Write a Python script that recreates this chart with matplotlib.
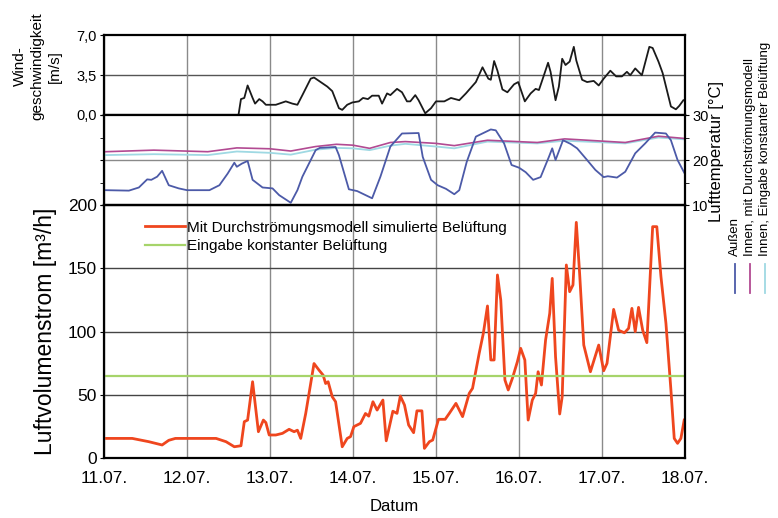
import matplotlib
matplotlib.use('Agg')
from matplotlib import pyplot as plt
from matplotlib.lines import Line2D
import numpy as np

plt.rcParams['font.family'] = ['Liberation Sans', 'DejaVu Sans']

### x positions are days after 11.07.
day_labels = ['11.07.', '12.07.', '13.07.', '14.07.', '15.07.', '16.07.', '17.07.', '18.07.']

### Luftvolumenstrom, simulated with Durchströmungsmodell [m3/h]
flow_day = [0.03, 0.34, 0.54, 0.70, 0.78, 0.86, 1.35, 1.47, 1.57, 1.65, 1.69, 1.73, 1.79, 1.86, 1.92,
            1.95, 1.99, 2.07, 2.15, 2.23, 2.29, 2.33, 2.37, 2.43, 2.53, 2.59, 2.64, 2.67, 2.70, 2.75,
            2.79, 2.87, 2.93, 2.97, 3.01, 3.09, 3.15, 3.19, 3.24, 3.29, 3.36, 3.40, 3.48, 3.53, 3.57,
            3.62, 3.67, 3.73, 3.77, 3.83, 3.86, 3.92, 3.96, 4.03, 4.11, 4.16, 4.24, 4.32, 4.40, 4.44,
            4.52, 4.57, 4.62, 4.66, 4.70, 4.74, 4.78, 4.83, 4.87, 4.92, 4.98, 5.02, 5.07, 5.11, 5.16,
            5.20, 5.23, 5.27, 5.32, 5.37, 5.40, 5.44, 5.49, 5.52, 5.57, 5.61, 5.65, 5.69, 5.73, 5.78,
            5.86, 5.96, 6.02, 6.06, 6.14, 6.20, 6.27, 6.32, 6.36, 6.40, 6.44, 6.49, 6.54, 6.61, 6.66,
            6.71, 6.77, 6.83, 6.87, 6.91, 6.95, 6.99]
flow_sim = [15.5, 15.5, 12.9, 10.3, 14, 15.5, 15.5, 12.9, 8.9, 9.7, 28.7, 30, 60.3, 20.8, 30,
            28, 18.2, 18.2, 19.5, 22.7, 20.8, 22, 15.5, 35.2, 74.7, 69.5, 65.5, 58.9, 60.3, 48.4,
            44.5, 8.9, 15.5, 16.9, 24.8, 27.4, 35.2, 33.1, 44.5, 37.9, 45.8, 13.6, 37, 35.3, 49,
            41.9, 26.1, 20, 37.3, 37.3, 7.6, 12.9, 14.2, 30.6, 30.6, 35.3, 43.2, 32.7, 51.1, 55.1,
            82.8, 98.6, 120.2, 77.5, 77.5, 144.7, 124.9, 61.7, 53.8, 63, 76.1, 86.7, 77.5, 30, 45.8,
            51.1, 68.2, 57.7, 93.3, 114.4, 142, 80, 34.8, 48.5, 152.6, 131.5, 136.8, 186.3, 146, 89.3,
            68.2, 89.3, 69, 74.8, 117.5, 101, 99, 102.5, 118.3, 99.9, 119.1, 101, 91.2, 182.9, 182.9,
            143.4, 106.5, 53.8, 15.5, 11.6, 15.5, 30]
flow_const = 65

### Windgeschwindigkeit [m/s]
wind_day = [1.62, 1.65, 1.69, 1.73, 1.79, 1.82, 1.87, 1.91, 1.95, 2.07, 2.19, 2.27, 2.33, 2.39, 2.49,
            2.53, 2.61, 2.69, 2.75, 2.83, 2.87, 2.93, 2.99, 3.07, 3.12, 3.18, 3.23, 3.31, 3.35, 3.41,
            3.45, 3.53, 3.59, 3.65, 3.69, 3.75, 3.79, 3.87, 3.94, 4.00, 4.10, 4.18, 4.28, 4.36, 4.48,
            4.56, 4.63, 4.66, 4.70, 4.74, 4.80, 4.86, 4.94, 4.99, 5.07, 5.14, 5.20, 5.24, 5.30, 5.35,
            5.38, 5.44, 5.48, 5.52, 5.56, 5.61, 5.66, 5.69, 5.76, 5.82, 5.90, 5.96, 6.02, 6.10, 6.17,
            6.24, 6.30, 6.34, 6.40, 6.48, 6.57, 6.61, 6.68, 6.73, 6.83, 6.89, 6.93, 6.98]
wind = [0.0, 1.4, 1.5, 2.6, 1.5, 1.0, 1.4, 1.2, 0.9, 0.9, 1.2, 1.0, 0.9, 1.75, 3.2,
        3.3, 2.9, 2.5, 2.1, 0.6, 0.45, 0.9, 1.1, 1.2, 1.5, 1.4, 1.7, 1.7, 1.0, 1.9,
        1.75, 2.3, 2.0, 1.2, 1.2, 1.75, 1.3, 0.15, 0.6, 1.2, 1.2, 1.5, 1.3, 1.9, 2.9,
        4.2, 3.2, 3.1, 4.75, 3.9, 2.25, 2.0, 2.7, 2.9, 1.2, 1.9, 2.3, 2.2, 3.5, 4.6,
        3.8, 1.3, 2.5, 4.95, 4.4, 4.7, 6.0, 4.8, 3.1, 2.9, 3.0, 2.6, 3.2, 3.9, 3.4,
        3.4, 3.8, 3.5, 4.1, 3.5, 6.0, 5.9, 4.7, 3.7, 0.75, 0.5, 0.8, 1.3]

### Lufttemperatur Außen [°C]
t_out_day = [0.02, 0.30, 0.42, 0.52, 0.57, 0.64, 0.70, 0.78, 0.90, 1.00, 1.27, 1.39, 1.49, 1.57, 1.60,
             1.66, 1.73, 1.79, 1.91, 2.03, 2.11, 2.25, 2.33, 2.39, 2.55, 2.60, 2.79, 2.83, 2.95, 3.05,
             3.23, 3.33, 3.45, 3.59, 3.79, 3.84, 3.94, 4.02, 4.12, 4.22, 4.28, 4.37, 4.48, 4.66, 4.72,
             4.82, 4.91, 5.00, 5.08, 5.17, 5.26, 5.36, 5.40, 5.44, 5.53, 5.62, 5.70, 5.82, 5.92, 6.02,
             6.07, 6.18, 6.28, 6.40, 6.52, 6.64, 6.77, 6.83, 6.91, 6.99]
t_out = [13.3, 13.2, 13.9, 15.7, 15.6, 16.3, 17.6, 14.4, 13.7, 13.3, 13.3, 14.4, 17.0, 19.4, 18.5,
         19.2, 19.8, 15.6, 13.9, 13.7, 12.2, 10.5, 13.3, 16.3, 22.2, 22.7, 22.9, 21.1, 13.5, 13.1,
         11.5, 16.3, 23.0, 25.9, 26.0, 20.7, 15.6, 14.4, 13.6, 12.4, 13.3, 19.6, 25.2, 26.8, 26.6,
         23.7, 18.9, 18.3, 17.3, 15.6, 16.2, 20.7, 22.6, 20.0, 24.4, 23.6, 22.6, 20.0, 17.8, 16.2,
         16.4, 16.1, 17.4, 21.5, 23.7, 26.1, 25.9, 24.4, 20.0, 17.2]

### Lufttemperatur innen [°C]
t_in_day = [0.02, 0.60, 1.25, 1.60, 2.00, 2.25, 2.55, 2.80, 3.00, 3.20, 3.45, 3.63, 4.00, 4.22,
            4.62, 5.22, 5.55, 6.28, 6.68, 6.99]
t_in_model = [21.85, 22.2, 21.85, 22.7, 22.5, 22.0, 23.0, 23.5, 23.3, 22.6, 23.9, 24.1, 23.7, 23.2,
              24.4, 23.9, 24.7, 23.9, 25.3, 24.8]
t_in_const = [21.1, 21.3, 21.1, 21.9, 21.6, 21.2, 22.3, 22.7, 22.6, 22.2, 23.2, 23.6, 23.0, 22.6,
              24.1, 23.7, 24.3, 23.7, 25.0, 24.6]

fig = plt.figure(figsize=(7.78, 5.18), dpi=100)
L, W = 0.1337, 0.7468
ax_w = fig.add_axes([L, 0.778, W, 0.1535])
ax_t = fig.add_axes([L, 0.6042, W, 0.1737])
ax_f = fig.add_axes([L, 0.1158, W, 0.4884])

for ax in (ax_w, ax_t, ax_f):
    ax.set_xlim(0, 7)
    ax.set_xticks(range(8))
    for s in ax.spines.values():
        s.set_linewidth(1.6)
    ax.grid(True, axis='x', color='#8a8a8a', linewidth=1.0)
    ax.set_axisbelow(True)
    ax.tick_params(axis='x', length=0)

### Wind
ax_w.plot(wind_day, wind, color='#1a1a1a', linewidth=1.3)
ax_w.set_ylim(0, 7)
ax_w.set_yticks([0, 3.5, 7])
ax_w.set_yticklabels(['0,0', '3,5', '7,0'], fontsize=10.5)
ax_w.axhline(3.5, color='#555555', linewidth=1.0, zorder=0)
ax_w.set_xticklabels([])
ax_w.tick_params(axis='y', direction='out', length=3, pad=2)
### three-line axis title, one text per line so each is centred
for xpos, line in zip([-0.145, -0.114, -0.084], ['Wind-', 'geschwindigkeit', '[m/s]']):
    ax_w.text(xpos, 0.61, line, transform=ax_w.transAxes, rotation=90,
              ha='center', va='center', fontsize=11)

### Temperature
ax_t.plot(t_in_day, t_in_const, color='#9fd9e3', linewidth=1.3)
ax_t.plot(t_in_day, t_in_model, color='#b24a92', linewidth=1.2)
ax_t.plot(t_out_day, t_out, color='#4c5aa8', linewidth=1.3)
ax_t.set_ylim(10, 30)
ax_t.set_yticks([10, 20, 30])
ax_t.set_yticks([15, 25], minor=True)
ax_t.axhline(20, color='#8a8a8a', linewidth=1.0, zorder=0)
ax_t.yaxis.tick_right()
ax_t.tick_params(axis='y', which='both', left=True, right=True, labelleft=False, labelright=True,
                 direction='out', length=3, labelsize=10.5, pad=2)
ax_t.set_xticklabels([])
ax_t.text(1.055, 0.59, 'Lufttemperatur [°C]', transform=ax_t.transAxes, rotation=90,
          ha='center', va='center', fontsize=12)

### Luftvolumenstrom
ax_f.plot(flow_day, flow_sim, color='#ef461e', linewidth=2.0,
          label='Mit Durchströmungsmodell simulierte Belüftung')
ax_f.axhline(flow_const, color='#a6d46a', linewidth=1.6, label='Eingabe konstanter Belüftung')
ax_f.set_ylim(0, 200)
ax_f.set_yticks([0, 50, 100, 150, 200])
ax_f.set_yticklabels(['0', '50', '100', '150', '200'], fontsize=12.5)
ax_f.grid(True, axis='y', color='#444444', linewidth=1.0)
ax_f.set_xticklabels(day_labels, fontsize=12.5)
ax_f.tick_params(axis='x', pad=9)
ax_f.tick_params(axis='y', direction='out', length=3, pad=2)
ax_f.set_xlabel('Datum', fontsize=12, labelpad=10)
ax_f.set_ylabel('Luftvolumenstrom [m³/h]', fontsize=16.5, labelpad=8)
ax_f.legend(loc='upper left', bbox_to_anchor=(0.055, 0.975), frameon=False, fontsize=11,
            handlelength=2.6, handletextpad=0.15, labelspacing=0.3, borderaxespad=0.2)

### Temperature legend on the right, reading upwards
leg_items = [('Außen', '#4c5aa8'), ('Innen, mit Durchströmungsmodell', '#b24a92'),
             ('Innen, Eingabe konstanter Belüftung', '#9fd9e3')]
for i, (txt, col) in enumerate(leg_items):
    x = 0.945 + i * 0.019
    fig.add_artist(Line2D([x, x], [0.435, 0.49], color=col, linewidth=1.3))
    fig.text(x, 0.505, txt, rotation=90, ha='center', va='bottom', fontsize=9.5)

fig.savefig('out.png', dpi=100)
